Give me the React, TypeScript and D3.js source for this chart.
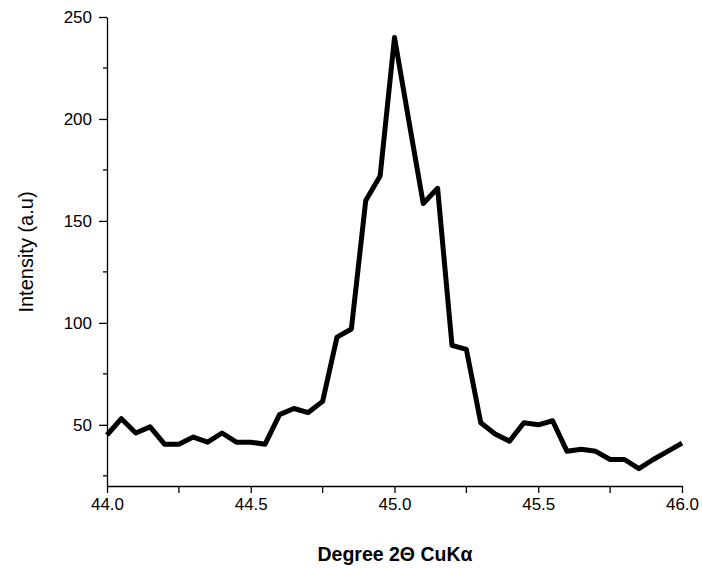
import * as d3 from 'd3';
import { useEffect, useRef } from 'react';

// 2-theta positions (degrees) and measured intensity
const twoTheta = [
  44.0, 44.05, 44.1, 44.15, 44.2, 44.25, 44.3, 44.35, 44.4, 44.45, 44.5,
  44.55, 44.6, 44.65, 44.7, 44.75, 44.8, 44.85, 44.9, 44.95, 45.0, 45.05,
  45.1, 45.15, 45.2, 45.25, 45.3, 45.35, 45.4, 45.45, 45.5, 45.55, 45.6,
  45.65, 45.7, 45.75, 45.8, 45.85, 45.9, 45.95, 46.0,
];
const intensity = [
  45, 53, 46, 49, 40.5, 40.5, 44, 41.5, 46, 41.5, 41.5, 40.5, 55, 58, 56,
  61.5, 93, 97, 160, 172, 240, 199, 158.5, 166, 89, 87, 51, 45.5, 42, 51, 50,
  52, 37, 38, 37, 33, 33, 28.5, 33, 37, 41,
];
const xTicks = [44.0, 44.5, 45.0, 45.5, 46.0];
const xMinorTicks = [44.25, 44.75, 45.25, 45.75];
const yTicks = [50, 100, 150, 200, 250];
const yMinorTicks = [25, 75, 125, 175, 225];

export default function App() {
  const ref = useRef<SVGSVGElement>(null);

  const width = 702;
  const height = 568;
  const margin = { top: 17, right: 20, bottom: 82, left: 107 };

  useEffect(() => {
    const svg = d3.select(ref.current);
    svg.selectAll('*').remove();

    const x = d3.scaleLinear().domain([44, 46]).range([margin.left, 682]);
    const y = d3
      .scaleLinear()
      .domain([20, 250])
      .range([height - margin.bottom, margin.top]);

    const font = 'Liberation Sans, Arial, sans-serif';

    // x axis
    const gx = svg.append('g').attr('transform', `translate(0,${y(20)})`);
    gx.call(
      d3
        .axisBottom(x)
        .tickValues(xTicks)
        .tickFormat(d3.format('.1f'))
        .tickSize(7)
        .tickSizeOuter(0)
        .tickPadding(5),
    );
    gx.selectAll('line').attr('stroke', '#000').attr('stroke-width', 1.3);
    gx.select('.domain').attr('stroke', '#000').attr('stroke-width', 1.3);
    gx.selectAll('text')
      .attr('font-size', 17)
      .attr('font-family', font)
      .attr('fill', '#000');
    gx.selectAll('.minor')
      .data(xMinorTicks)
      .enter()
      .append('line')
      .attr('x1', (d) => x(d))
      .attr('x2', (d) => x(d))
      .attr('y1', 0)
      .attr('y2', 7)
      .attr('stroke', '#000')
      .attr('stroke-width', 1.3);

    // y axis
    const gy = svg.append('g').attr('transform', `translate(${margin.left},0)`);
    gy.call(
      d3
        .axisLeft(y)
        .tickValues(yTicks)
        .tickSize(8)
        .tickSizeOuter(0)
        .tickPadding(7),
    );
    gy.selectAll('line').attr('stroke', '#000').attr('stroke-width', 1.3);
    gy.select('.domain').attr('stroke', '#000').attr('stroke-width', 1.3);
    gy.selectAll('text')
      .attr('font-size', 17)
      .attr('font-family', font)
      .attr('fill', '#000');
    gy.selectAll('.minor')
      .data(yMinorTicks)
      .enter()
      .append('line')
      .attr('x1', -4)
      .attr('x2', 0)
      .attr('y1', (d) => y(d))
      .attr('y2', (d) => y(d))
      .attr('stroke', '#000')
      .attr('stroke-width', 1.3);

    // the pattern line
    const line = d3
      .line<number>()
      .x((d, i) => x(twoTheta[i]))
      .y((d) => y(d));
    svg
      .append('path')
      .datum(intensity)
      .attr('d', line)
      .attr('fill', 'none')
      .attr('stroke', '#000')
      .attr('stroke-width', 5)
      .attr('stroke-linejoin', 'round');

    // axis titles
    svg
      .append('text')
      .text('Intensity (a.u)')
      .attr('transform', `translate(33,252) rotate(-90)`)
      .attr('text-anchor', 'middle')
      .attr('font-size', 20)
      .attr('font-family', font);
    svg
      .append('text')
      .text('Degree 2Θ CuKα')
      .attr('x', 395)
      .attr('y', 561)
      .attr('text-anchor', 'middle')
      .attr('font-size', 19.5)
      .attr('font-weight', 'bold')
      .attr('font-family', font);
  }, []);

  return (
    <svg
      ref={ref}
      width={width}
      height={height}
      style={{ position: 'absolute', left: 0, top: 0, background: '#fff' }}
    />
  );
}
